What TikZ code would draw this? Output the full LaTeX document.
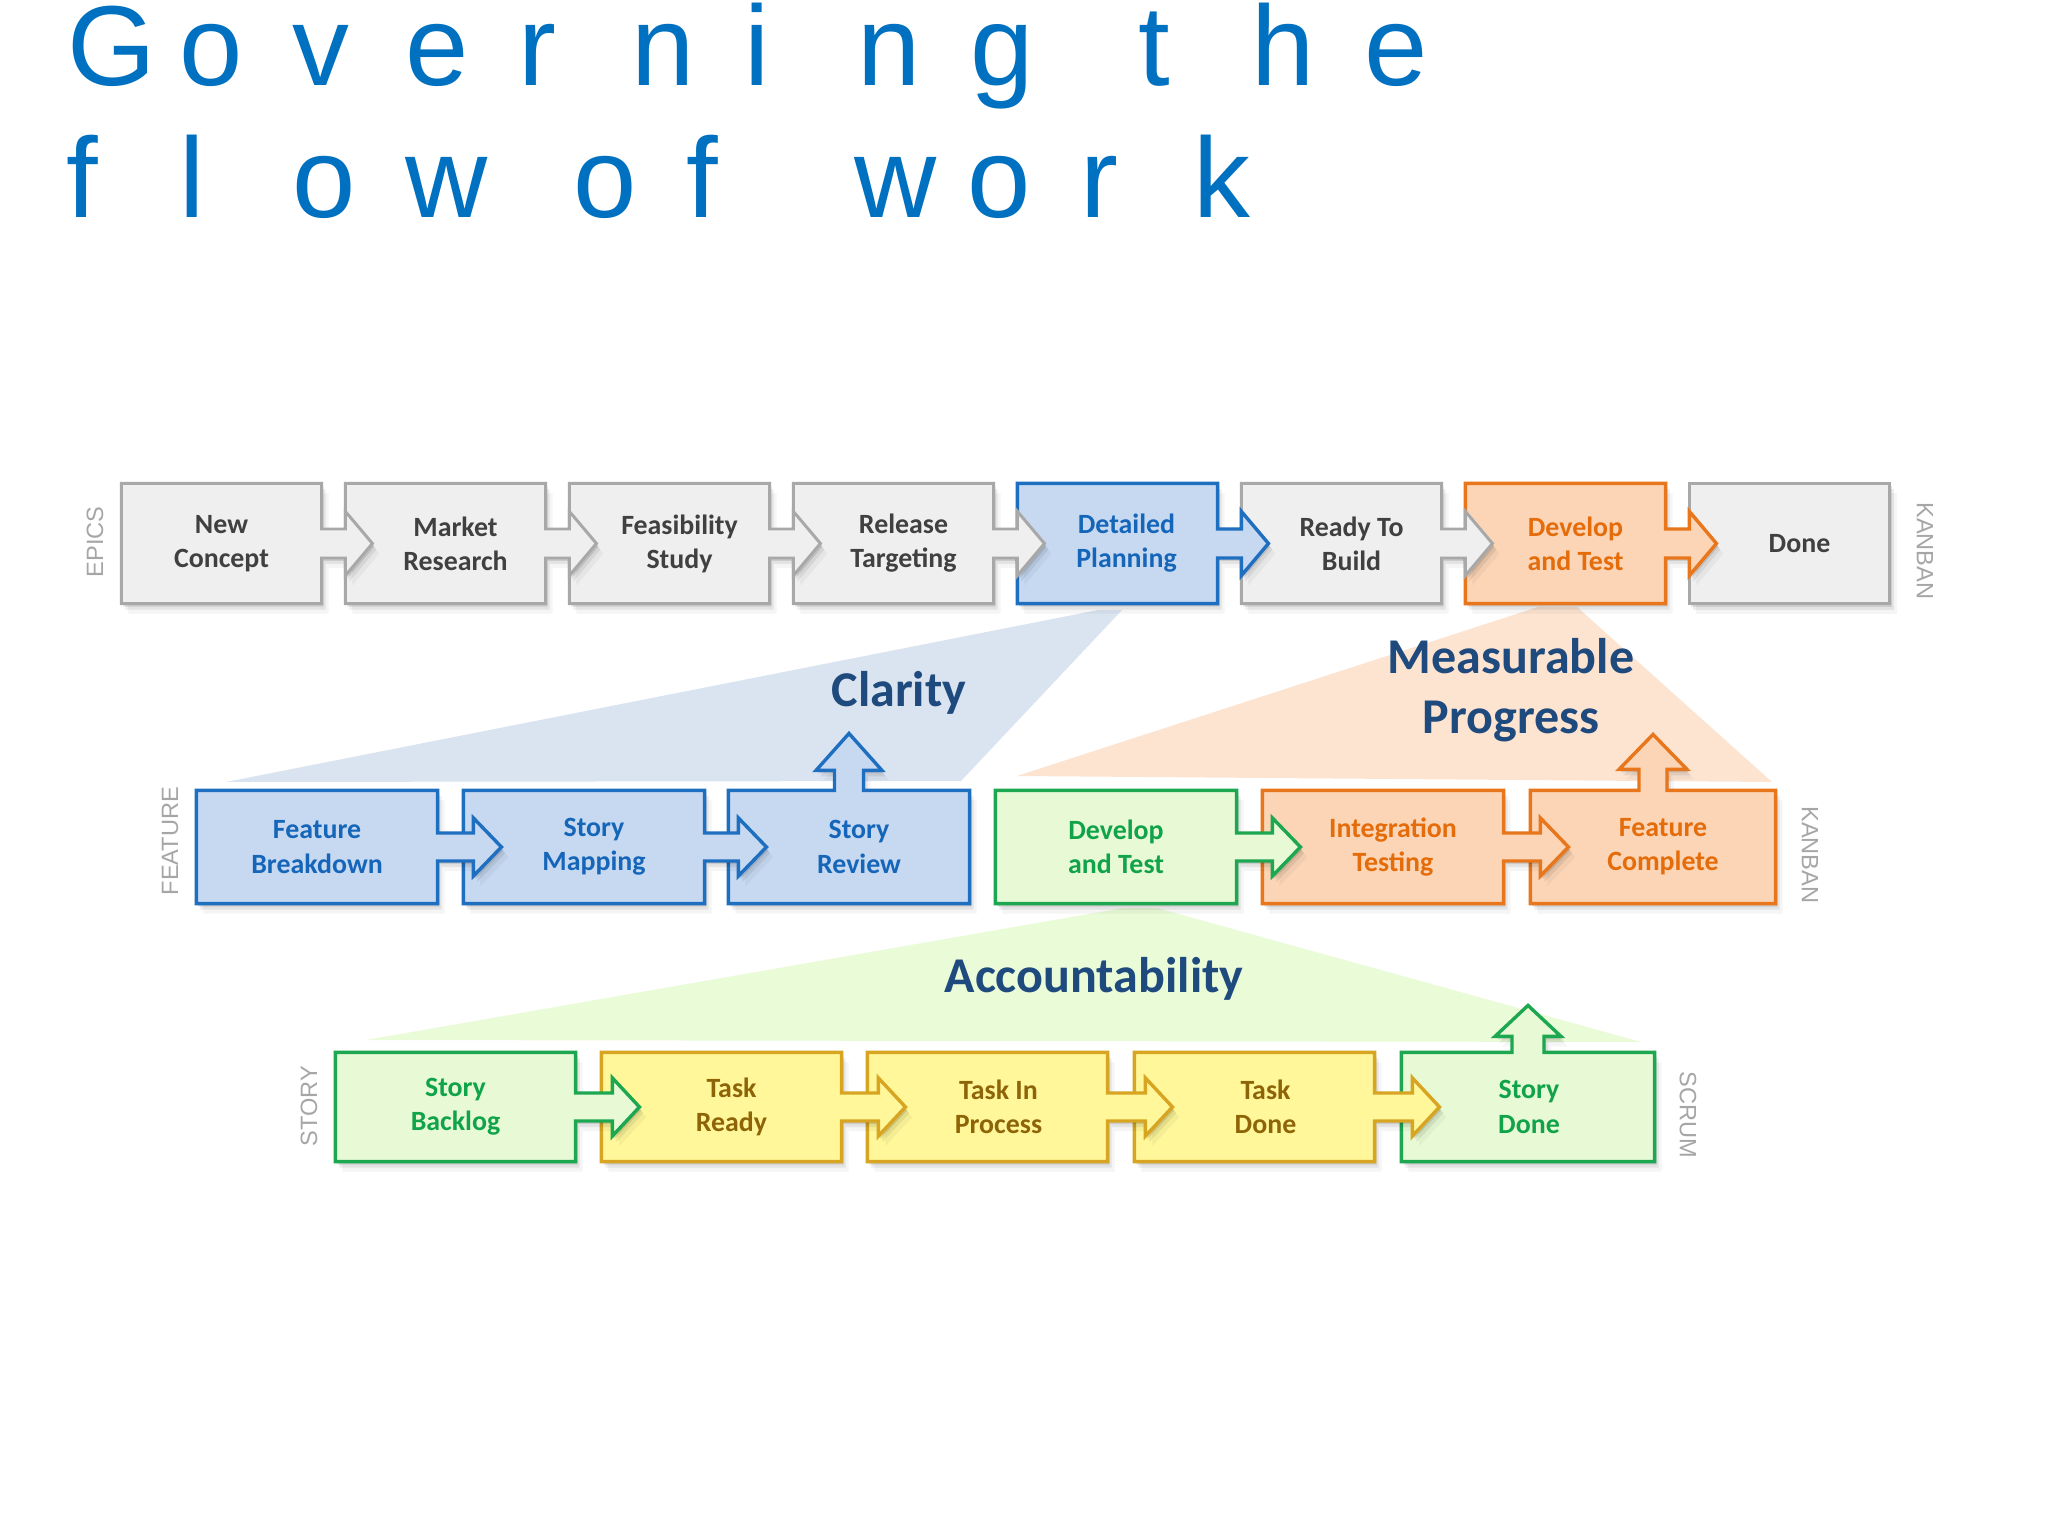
\documentclass[tikz,border=0pt]{standalone}
\usepackage{fontspec}
\setmainfont{Carlito}
\newfontfamily\titlefont{Liberation Sans}
\newfontfamily\sidefont{Liberation Sans}
\usetikzlibrary{calc}
\pgfdeclarelayer{wedge}
\pgfdeclarelayer{shapes}
\pgfsetlayers{wedge,shapes,main}

\definecolor{grayfill}{HTML}{EFEFEF}
\definecolor{graydraw}{HTML}{A8A8A8}
\definecolor{graytext}{HTML}{404040}
\definecolor{bluefill}{HTML}{C6D9F1}
\definecolor{bluedraw}{HTML}{1F6FC1}
\definecolor{bluetext}{HTML}{1565B9}
\definecolor{orfill}{HTML}{FBD5B6}
\definecolor{ordraw}{HTML}{E8761C}
\definecolor{ortext}{HTML}{E46C0A}
\definecolor{grfill}{HTML}{E8FAD5}
\definecolor{grdraw}{HTML}{1CA750}
\definecolor{grtext}{HTML}{10A349}
\definecolor{yefill}{HTML}{FFF799}
\definecolor{yedraw}{HTML}{D7A521}
\definecolor{yetext}{HTML}{8D6508}
\definecolor{wblue}{HTML}{DAE4F1}
\definecolor{wor}{HTML}{FCE4D1}
\definecolor{wgreen}{HTML}{EAFBD8}
\definecolor{navy}{HTML}{1F4A7E}
\definecolor{titleblue}{HTML}{0070C0}
\definecolor{sidegray}{HTML}{A6A6A6}

% title character cell
\newcommand\tc[1]{\makebox[39.7pt][l]{#1}}
\newcommand\tsp{\hspace*{19.5pt}}
% box node: name, cx, cy, width, height, style, text, text shift
\newcommand\mkbox[8]{%
  \node[inner sep=0pt,minimum width=#4*0.3515625pt,minimum height=#5*0.3515625pt] (#1) at (#2,#3) {};
  \node[lbl,#6] (#1-t) at ($(#1.center)+(#8,0)$) {#7};}
% right arrow callout outline: a, b, stem half, head half, head offset, head length
\newcommand\rpath[6]{(#1.north west) -- (#1.north east) -- ($(#1.east)+(0,-#3)$) -- ($(#2.west)+(#5,-#3)$) -- ($(#2.west)+(#5,-#4)$) -- ($(#2.west)+(#5+#6,0)$) -- ($(#2.west)+(#5,#4)$) -- ($(#2.west)+(#5,#3)$) -- ($(#1.east)+(0,#3)$) -- (#1.south east) -- (#1.south west) -- cycle}
% up arrow callout outline: a, stem half, head half, stem length, head length
\newcommand\upath[5]{(#1.north west) -- ($(#1.north)+(-#2,0)$) -- ($(#1.north)+(-#2,-#4)$) -- ($(#1.north)+(-#3,-#4)$) -- ($(#1.north)+(0,-#4-#5)$) -- ($(#1.north)+(#3,-#4)$) -- ($(#1.north)+(#2,-#4)$) -- ($(#1.north)+(#2,0)$) -- (#1.north east) -- (#1.south east) -- (#1.south west) -- cycle}
\newcommand\bpath[1]{(#1.north west) rectangle (#1.south east)}
% shape with soft shadow
\newcommand\shp[2]{%
  \foreach \dx/\dy/\op in {2/3/0.10,4/6/0.07,7/10/0.04}{%
    \path[fill=black,opacity=\op,transform canvas={shift={(\dx,\dy)}}] #2;}
  \path[#1] #2;}

\begin{document}
\begin{tikzpicture}[x=0.3515625pt,y=-0.3515625pt,
  lbl/.style={font=\bfseries\fontsize{9.8}{12}\selectfont,align=center,inner sep=0pt},
  tgray/.style={text=graytext},
  tblue/.style={text=bluetext},
  tor/.style={text=ortext},
  tgr/.style={text=grtext},
  tye/.style={text=yetext},
  sgray/.style={fill=grayfill,draw=graydraw,line width=1.05pt,line join=miter},
  sblue/.style={fill=bluefill,draw=bluedraw,line width=1.2pt,line join=miter},
  sor/.style={fill=orfill,draw=ordraw,line width=1.2pt,line join=miter},
  sgr/.style={fill=grfill,draw=grdraw,line width=1.2pt,line join=miter},
  sye/.style={fill=yefill,draw=yedraw,line width=1.2pt,line join=miter},
  side/.style={font=\sidefont\fontsize{8.3}{10}\selectfont,text=sidegray,inner sep=0pt},
  headline/.style={font=\bfseries\fontsize{17.6}{21.1}\selectfont,text=navy,inner sep=0pt,align=center},
  ttl/.style={font=\titlefont\fontsize{40}{46}\selectfont,text=titleblue,inner sep=0pt}]
\useasboundingbox (0,0) rectangle (2048,1536);
\begin{pgfonlayer}{wedge}
  \fill[white] (0,0) rectangle (2048,1536);
\end{pgfonlayer}

% title
\node[ttl,anchor=base west] (t1) at (66.5,86) {\tc{G}\tc{o}\tc{v}\tc{e}\tc{r}\tc{n}\tc{i}\tc{n}\tc{g}\tsp\tc{t}\tc{h}\tc{e}};
\node[ttl,anchor=base west] (t2) at (66,218) {\tc{f}\tc{l}\tc{o}\tc{w}\tsp\tc{o}\tc{f}\tsp\tc{w}\tc{o}\tc{r}\tc{k}};

% top row
\mkbox{nc}{221.5}{543.5}{199}{119}{tgray}{New\\Concept}{0}
\mkbox{mr}{445.5}{543.5}{199}{119}{tgray}{Market\\Research}{10}
\mkbox{fs}{669.5}{543.5}{199}{119}{tgray}{Feasibility\\Study}{10}
\mkbox{rt}{893.5}{543.5}{199}{119}{tgray}{Release\\Targeting}{10}
\mkbox{dp}{1117.5}{543.5}{199}{119}{tblue}{Detailed\\Planning}{9}
\mkbox{rb}{1341.5}{543.5}{199}{119}{tgray}{Ready To\\Build}{10}
\mkbox{dt}{1565.5}{543.5}{199}{119}{tor}{Develop\\and Test}{10}
\mkbox{dn}{1789.5}{543.5}{199}{119}{tgray}{Done}{10}

% second row
\mkbox{fb}{317}{847}{240}{112}{tblue}{Feature\\Breakdown}{0}
\mkbox{sm}{584}{847}{240}{112}{tblue}{Story\\Mapping}{10}
\mkbox{sr}{849}{847}{240}{112}{tblue}{Story\\Review}{10}
\mkbox{dt2}{1116}{847}{240}{112}{tgr}{Develop\\and Test}{0}
\mkbox{it}{1383}{847}{240}{112}{tor}{Integration\\Testing}{10}
\mkbox{fc}{1653}{847}{244}{112}{tor}{Feature\\Complete}{10}

% third row
\mkbox{sb}{455.5}{1107}{239}{108}{tgr}{Story\\Backlog}{0}
\mkbox{tr}{721.5}{1107}{239}{108}{tye}{Task\\Ready}{10}
\mkbox{tp}{987.5}{1107}{239}{108}{tye}{Task In\\Process}{11}
\mkbox{td}{1254.5}{1107}{239}{108}{tye}{Task\\Done}{11}
\mkbox{sd}{1528}{1107}{252}{108}{tgr}{Story\\Done}{1}

% side labels
\node[side,rotate=90] (epics) at (95,542) {EPICS};
\node[side,rotate=-90] (kb1) at (1925,551) {KANBAN};
\node[side,rotate=90] (feat) at (170,841) {FEATURE};
\node[side,rotate=-90] (kb2) at (1810,855) {KANBAN};
\node[side,rotate=90] (story) at (309,1106) {STORY};
\node[side,rotate=-90] (scrum) at (1688,1115) {SCRUM};

% headings
\node[headline,anchor=base] (clar) at (899,707) {Clarity};
\node[headline] (meas) at (1511,690) {Measurable\\Progress};
\node[headline,anchor=base] (acc) at (1094,992) {Accountability};

% wedges
\begin{pgfonlayer}{wedge}
  \fill[wblue] (1098,610) -- (1122,610) -- (961,781) -- (226,782) -- cycle;
  \fill[wor] (1538,607) -- (1577,607) -- (1772,782) -- (1017,776) -- cycle;
  \fill[wgreen] (1123,908) -- (1157,908) -- (1641,1042) -- (366,1040) -- cycle;
\end{pgfonlayer}

\begin{pgfonlayer}{shapes}
  % top row, right to left
  \shp{sgray}{\bpath{dn}}
  \shp{sor}{\rpath{dt}{dn}{14.5}{32}{0}{27}}
  \shp{sgray}{\rpath{rb}{dt}{14.5}{32}{0}{27}}
  \shp{sblue}{\rpath{dp}{rb}{14.5}{32}{0}{27}}
  \shp{sgray}{\rpath{rt}{dp}{14.5}{32}{0}{27}}
  \shp{sgray}{\rpath{fs}{rt}{14.5}{32}{0}{27}}
  \shp{sgray}{\rpath{mr}{fs}{14.5}{32}{0}{27}}
  \shp{sgray}{\rpath{nc}{mr}{14.5}{32}{0}{27}}
  % second row
  \shp{sor}{\upath{fc}{14}{34}{21}{35}}
  \shp{sor}{\rpath{it}{fc}{14}{29}{10}{28}}
  \shp{sgr}{\rpath{dt2}{it}{14}{29}{10}{28}}
  \shp{sblue}{\upath{sr}{14.5}{33}{20}{37}}
  \shp{sblue}{\rpath{sm}{sr}{14}{29}{10}{28}}
  \shp{sblue}{\rpath{fb}{sm}{14}{29}{10}{28}}
  % third row
  \shp{sgr}{\upath{sd}{16}{33}{16}{31}}
  \shp{sye}{\rpath{td}{sd}{14}{29}{11}{27}}
  \shp{sye}{\rpath{tp}{td}{14}{29}{11}{27}}
  \shp{sye}{\rpath{tr}{tp}{14}{29}{11}{27}}
  \shp{sgr}{\rpath{sb}{tr}{14}{29}{11}{27}}
\end{pgfonlayer}
\end{tikzpicture}
\end{document}
